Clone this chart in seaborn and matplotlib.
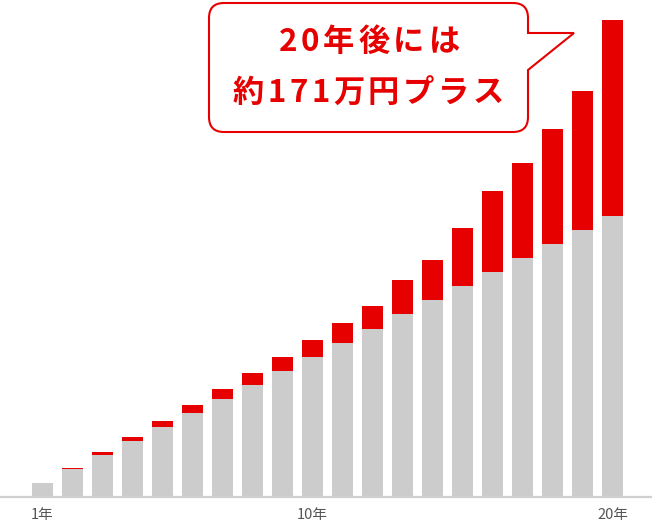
import matplotlib
matplotlib.use("Agg")
import matplotlib.pyplot as plt
from matplotlib.path import Path
from matplotlib.patches import PathPatch
import seaborn as sns
import pandas as pd

# ---- data (万円) ----
years = [f"{i}年" for i in range(1, 21)]
principal = [12, 24, 36, 48, 60, 72, 84, 96, 108, 120,
             132, 144, 156, 168, 180, 192, 204, 216, 228, 240]
gain = [0, 0.9, 2.1, 3.2, 4.9, 6.6, 7.9, 10, 12, 14.3,
        16.5, 19.4, 29.6, 34.8, 49.6, 69.5, 81.2, 98.9, 119.1, 168]
tick_years = ["1年", "10年", "20年"]
callout_lines = ["20年後には", "約171万円プラス"]

df = pd.DataFrame({"year": years, "principal": principal, "gain": gain})
df["total"] = df["principal"] + df["gain"]

sns.set_theme(style="white")
plt.rcParams["font.family"] = ["Noto Sans CJK JP", "DejaVu Sans"]

W, H = 652, 526
fig = plt.figure(figsize=(W / 100, H / 100), dpi=100)
base_px = 497
ax = fig.add_axes([0, (H - base_px) / H, 1, base_px / H])

RED = "#e60000"
GRAY = "#cccccc"
sns.barplot(data=df, x="year", y="total", color=RED, width=0.7,
            saturation=1, ax=ax, linewidth=0)
sns.barplot(data=df, x="year", y="principal", color=GRAY, width=0.7,
            saturation=1, ax=ax, linewidth=0)

ax.set_xlim(-42.5 / 30, (W - 42.5) / 30)
ax.set_ylim(0, base_px / 1.17)
ax.set_xlabel("")
ax.set_ylabel("")
ax.set_yticks([])
idx = [years.index(t) for t in tick_years]
ax.set_xticks(idx)
ax.set_xticklabels(tick_years, fontsize=10.5, color="#555555")
ax.tick_params(axis="x", length=0, pad=8)
for s in ["top", "left", "right"]:
    ax.spines[s].set_visible(False)
ax.spines["bottom"].set_color("#d0d0d0")
ax.spines["bottom"].set_linewidth(1.6)

# ---- speech bubble (pixel layout -> figure fraction) ----
L, R, T, B, r = 209, 528, 3, 132, 15
tail_top, tail_tip_x, tail_bot = 33, 574, 70
pts = [
    ((L + r, T), Path.MOVETO),
    ((R - r, T), Path.LINETO),
    ((R, T), Path.CURVE3), ((R, T + r), Path.CURVE3),
    ((R, tail_top), Path.LINETO),
    ((tail_tip_x, tail_top), Path.LINETO),
    ((R, tail_bot), Path.LINETO),
    ((R, B - r), Path.LINETO),
    ((R, B), Path.CURVE3), ((R - r, B), Path.CURVE3),
    ((L + r, B), Path.LINETO),
    ((L, B), Path.CURVE3), ((L, B - r), Path.CURVE3),
    ((L, T + r), Path.LINETO),
    ((L, T), Path.CURVE3), ((L + r, T), Path.CURVE3),
    ((L + r, T), Path.CLOSEPOLY),
]
verts = [(x / W, 1 - y / H) for (x, y), _ in pts]
codes = [c for _, c in pts]
bubble = PathPatch(Path(verts, codes), facecolor="white", edgecolor=RED,
                   linewidth=1.5, transform=fig.transFigure, zorder=5)
fig.patches.append(bubble)

renderer = fig.canvas.get_renderer()


def tracked_text(s, cx, cy, tracking, **kw):
    """Draw string centred at pixel (cx, cy from top) with extra letter spacing."""
    texts = [fig.text(0, 0, ch, ha="left", va="center", **kw) for ch in s]
    widths = [t.get_window_extent(renderer).width for t in texts]
    total = sum(widths) + tracking * (len(s) - 1)
    x = cx - total / 2
    for t, w in zip(texts, widths):
        t.set_position((x / W, 1 - cy / H))
        x += w + tracking


tracked_text(callout_lines[0], 369, 42, 3.8, fontsize=22.5,
             fontweight="bold", color=RED, zorder=6)
tracked_text(callout_lines[1], 368, 93, 3.6, fontsize=22.5,
             fontweight="bold", color=RED, zorder=6)

fig.savefig("out.png", dpi=100, facecolor="white")
